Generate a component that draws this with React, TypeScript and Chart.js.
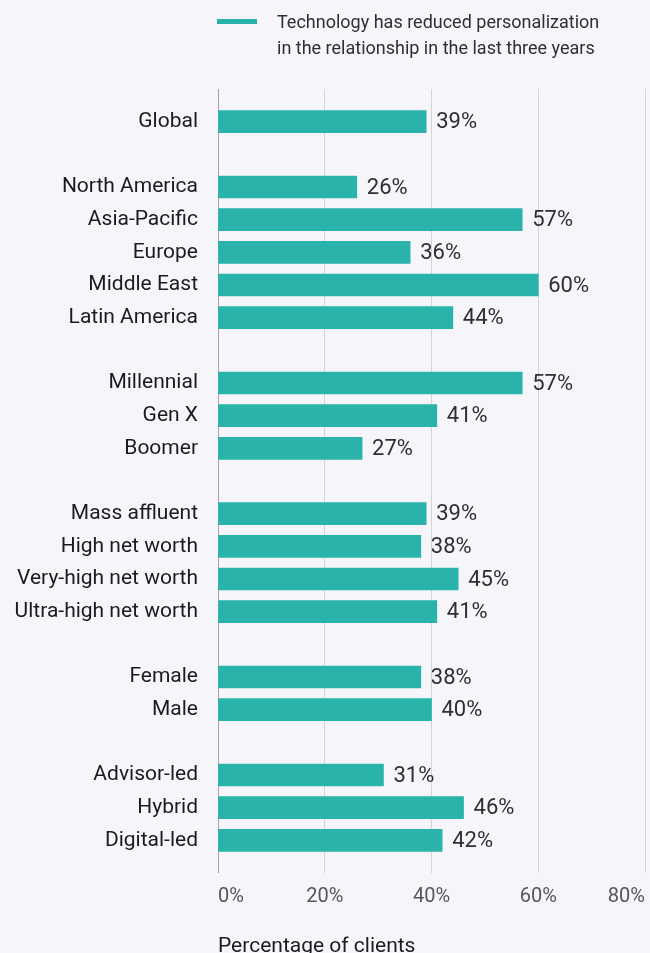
import React, { useEffect, useRef } from "react";
import { Chart, registerables } from "chart.js";

Chart.register(...registerables);

// Blank entries separate the groups (and pad top/bottom of the axis)
const categories: string[] = [
  "",
  "Global",
  "",
  "North America",
  "Asia-Pacific",
  "Europe",
  "Middle East",
  "Latin America",
  "",
  "Millennial",
  "Gen X",
  "Boomer",
  "",
  "Mass affluent",
  "High net worth",
  "Very-high net worth",
  "Ultra-high net worth",
  "",
  "Female",
  "Male",
  "",
  "Advisor-led",
  "Hybrid",
  "Digital-led",
  "",
];

const values: (number | null)[] = [
  null,
  39,
  null,
  26,
  57,
  36,
  60,
  44,
  null,
  57,
  41,
  27,
  null,
  39,
  38,
  45,
  41,
  null,
  38,
  40,
  null,
  31,
  46,
  42,
  null,
];

const xTickValues: number[] = [0, 20, 40, 60, 80];
const seriesLabelLines: string[] = [
  "Technology has reduced personalization",
  "in the relationship in the last three years",
];
const xAxisTitle = "Percentage of clients";

const BG = "#f6f6fa";
const TEAL = "#2ab3aa";
const DARK = "#2e2e38";
const FONT = "Roboto, 'Open Sans', sans-serif";

export default function App() {
  const ref = useRef<HTMLCanvasElement | null>(null);

  useEffect(() => {
    document.body.style.margin = "0";
    document.body.style.background = BG;
    document.documentElement.style.overflow = "hidden";
    document.body.style.overflow = "hidden";

    const valueLabels = {
      id: "valueLabels",
      afterDatasetsDraw(chart: any) {
        const ctx = chart.ctx;
        const meta = chart.getDatasetMeta(0);
        ctx.save();
        ctx.font = `22px ${FONT}`;
        ctx.fillStyle = DARK;
        ctx.textAlign = "left";
        ctx.textBaseline = "middle";
        meta.data.forEach((el: any, i: number) => {
          const v = values[i];
          if (v === null || v === undefined) return;
          ctx.fillText(`${v}%`, el.x + 10, el.y + 1);
        });
        ctx.restore();
      },
    };

    const chart = new Chart(ref.current as HTMLCanvasElement, {
      type: "bar",
      data: {
        labels: categories,
        datasets: [
          {
            label: seriesLabelLines.join(" "),
            data: values,
            backgroundColor: TEAL,
            borderWidth: 0,
            barThickness: 22,
          },
        ],
      },
      options: {
        indexAxis: "y",
        responsive: false,
        animation: false,
        layout: { padding: { top: 89, right: 5, left: 0, bottom: 0 } },
        plugins: {
          legend: { display: false },
          tooltip: { enabled: false },
        },
        scales: {
          x: {
            type: "linear",
            position: "bottom",
            min: 0,
            max: 80,
            afterBuildTicks: (scale: any) => {
              scale.ticks = xTickValues.map((v) => ({ value: v }));
            },
            afterFit: (scale: any) => {
              scale.height = 97;
              scale.paddingRight = 0;
              scale.paddingLeft = 0;
            },
            grid: {
              color: (c: any) => (c.tick && c.tick.value === 0 ? "#a3a3ab" : "#d3d3da"),
              lineWidth: 1,
              drawTicks: false,
            },
            border: { display: false },
            ticks: {
              align: "inner",
              padding: 12,
              color: "#55555f",
              font: { family: FONT, size: 20 },
              callback: (v: any) => `${v}%`,
            },
            title: {
              display: true,
              text: xAxisTitle,
              align: "start",
              color: "#1a1a24",
              font: { family: FONT, size: 21 },
              padding: { top: 0, bottom: 11 },
            },
          },
          y: {
            type: "category",
            offset: false,
            afterFit: (scale: any) => {
              scale.width = 218;
            },
            grid: { display: false, drawTicks: false },
            border: { display: false },
            ticks: {
              autoSkip: false,
              padding: 20,
              color: "#1a1a24",
              font: { family: FONT, size: 21 },
            },
          },
        },
      },
      plugins: [valueLabels],
    } as any);

    return () => chart.destroy();
  }, []);

  return (
    <div style={{ position: "relative", width: 650, height: 970, background: BG, fontFamily: FONT }}>
      <canvas ref={ref} width={650} height={970} style={{ display: "block" }} />
      <div style={{ position: "absolute", left: 217, top: 19, width: 40, height: 5, background: TEAL }} />
      <div
        style={{
          position: "absolute",
          left: 277,
          top: 9,
          fontSize: 18,
          lineHeight: "25.5px",
          color: DARK,
          whiteSpace: "nowrap",
        }}
      >
        {seriesLabelLines.map((t, i) => (
          <div key={i}>{t}</div>
        ))}
      </div>
    </div>
  );
}
